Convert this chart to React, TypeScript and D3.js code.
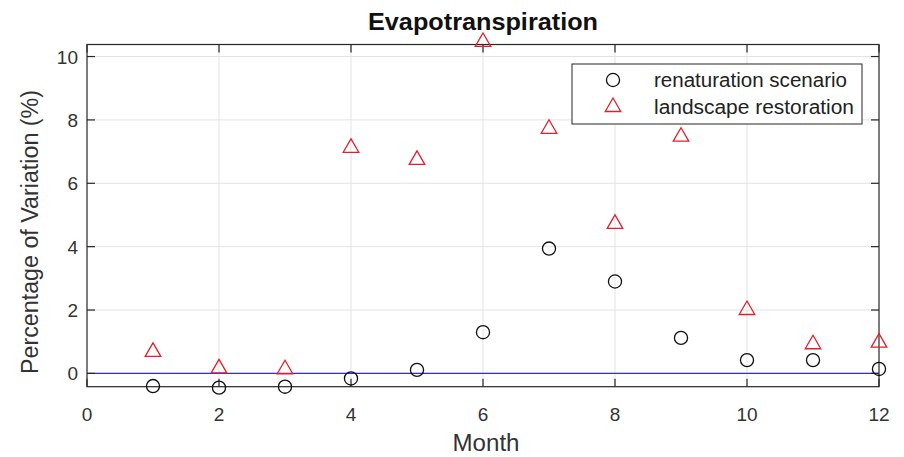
import React from "react";
import * as d3 from "d3";

// monthly values
const months = [1, 2, 3, 4, 5, 6, 7, 8, 9, 10, 11, 12];
const renaturation = [-0.4, -0.45, -0.42, -0.16, 0.11, 1.3, 3.94, 2.9, 1.12, 0.42, 0.42, 0.14];
const landscape = [0.68, 0.16, 0.13, 7.12, 6.74, 10.46, 7.72, 4.72, 7.47, 2.0, 0.92, 0.97];
const xTicks = [0, 2, 4, 6, 8, 10, 12];
const yTicks = [0, 2, 4, 6, 8, 10];
const seriesNames = ["renaturation scenario", "landscape restoration"];

const W = 904;
const H = 457;
const RED = "#e0202a";
const FONT = "'Liberation Sans', Arial, Helvetica, sans-serif";

export default function App() {
    const ref = React.useRef<SVGSVGElement>(null);

    React.useEffect(() => {
        document.body.style.margin = "0";
        drawChart();
    }, []);

    function drawChart() {
        const svg = d3.select(ref.current);
        svg.selectAll("*").remove();

        const left = 87, right = 879, top = 44.5, bottom = 386.7;

        const x = d3.scaleLinear().domain([0, 12]).range([left, right]);
        const y = d3.scaleLinear().domain([-0.42, 10.38]).range([bottom, top]);
        const tickLen = 8;

        // white plot area
        svg.append("rect")
            .attr("x", left).attr("y", top)
            .attr("width", right - left).attr("height", bottom - top)
            .attr("fill", "#fff");

        // grid
        const grid = svg.append("g").attr("stroke", "#e3e3e3").attr("stroke-width", 1);
        xTicks.slice(1, -1).forEach((t) => {
            grid.append("line")
                .attr("x1", x(t)).attr("x2", x(t))
                .attr("y1", top).attr("y2", bottom);
        });
        yTicks.forEach((t) => {
            grid.append("line")
                .attr("x1", left).attr("x2", right)
                .attr("y1", y(t)).attr("y2", y(t));
        });

        // zero reference line
        svg.append("line")
            .attr("x1", x(0)).attr("x2", x(12))
            .attr("y1", y(0)).attr("y2", y(0))
            .attr("stroke", "#2b2bf0")
            .attr("stroke-width", 1.2);

        // axes box and inward ticks
        const ax = svg.append("g").attr("stroke", "#262626").attr("stroke-width", 1.2);
        ax.append("rect")
            .attr("x", left).attr("y", top)
            .attr("width", right - left).attr("height", bottom - top)
            .attr("fill", "none");
        xTicks.forEach((t) => {
            ax.append("line").attr("x1", x(t)).attr("x2", x(t)).attr("y1", bottom).attr("y2", bottom - tickLen);
            ax.append("line").attr("x1", x(t)).attr("x2", x(t)).attr("y1", top).attr("y2", top + tickLen);
        });
        yTicks.forEach((t) => {
            ax.append("line").attr("x1", left).attr("x2", left + tickLen).attr("y1", y(t)).attr("y2", y(t));
            ax.append("line").attr("x1", right).attr("x2", right - tickLen).attr("y1", y(t)).attr("y2", y(t));
        });

        // tick labels
        svg.append("g")
            .selectAll("text")
            .data(xTicks)
            .join("text")
            .attr("x", (d) => x(d))
            .attr("y", 421)
            .attr("text-anchor", "middle")
            .attr("font-family", FONT)
            .attr("font-size", 19)
            .attr("fill", "#333")
            .text((d) => d);

        svg.append("g")
            .selectAll("text")
            .data(yTicks)
            .join("text")
            .attr("x", left - 9)
            .attr("y", (d) => y(d) + 7)
            .attr("text-anchor", "end")
            .attr("font-family", FONT)
            .attr("font-size", 19)
            .attr("fill", "#333")
            .text((d) => d);

        // axis labels and title
        svg.append("text")
            .attr("x", 486)
            .attr("y", 451)
            .attr("text-anchor", "middle")
            .attr("font-family", FONT)
            .attr("font-size", 23)
            .attr("fill", "#333")
            .attr("textLength", 67)
            .attr("lengthAdjust", "spacingAndGlyphs")
            .text("Month");

        svg.append("text")
            .attr("transform", `translate(38,232) rotate(-90)`)
            .attr("text-anchor", "middle")
            .attr("font-family", FONT)
            .attr("font-size", 23.5)
            .attr("fill", "#333")
            .attr("textLength", 284)
            .attr("lengthAdjust", "spacingAndGlyphs")
            .text("Percentage of Variation (%)");

        svg.append("text")
            .attr("x", 483)
            .attr("y", 30)
            .attr("text-anchor", "middle")
            .attr("font-family", FONT)
            .attr("font-size", 23.5)
            .attr("font-weight", "bold")
            .attr("fill", "#111")
            .attr("textLength", 230)
            .attr("lengthAdjust", "spacingAndGlyphs")
            .text("Evapotranspiration");

        // markers
        const circleSym = d3.symbol().type(d3.symbolCircle).size(135);
        const triSym = d3.symbol().type(d3.symbolTriangle).size(105);

        svg.append("g")
            .selectAll("path")
            .data(months.map((m, i) => [m, renaturation[i]]))
            .join("path")
            .attr("transform", (d) => `translate(${x(d[0])},${y(d[1])})`)
            .attr("d", circleSym())
            .attr("fill", "none")
            .attr("stroke", "#111")
            .attr("stroke-width", 1.3);

        svg.append("g")
            .selectAll("path")
            .data(months.map((m, i) => [m, landscape[i]]))
            .join("path")
            .attr("transform", (d) => `translate(${x(d[0])},${y(d[1])})`)
            .attr("d", triSym())
            .attr("fill", "none")
            .attr("stroke", RED)
            .attr("stroke-width", 1.3);

        // legend
        const lg = svg.append("g");
        lg.append("rect")
            .attr("x", 572).attr("y", 64)
            .attr("width", 290).attr("height", 60)
            .attr("fill", "#fff")
            .attr("stroke", "#262626")
            .attr("stroke-width", 1);
        lg.append("path")
            .attr("transform", "translate(613,80)")
            .attr("d", circleSym())
            .attr("fill", "none")
            .attr("stroke", "#111")
            .attr("stroke-width", 1.3);
        lg.append("path")
            .attr("transform", "translate(613,107)")
            .attr("d", triSym())
            .attr("fill", "none")
            .attr("stroke", RED)
            .attr("stroke-width", 1.3);
        seriesNames.forEach((name, i) => {
            lg.append("text")
                .attr("x", 654)
                .attr("y", 87 + i * 27)
                .attr("font-family", FONT)
                .attr("font-size", 20)
                .attr("fill", "#222")
                .attr("textLength", i === 0 ? 193 : 200)
                .attr("lengthAdjust", "spacingAndGlyphs")
                .text(name);
        });
    }

    return (
        <svg ref={ref} width={W} height={H} style={{ display: "block", background: "#fff" }} />
    );
}
